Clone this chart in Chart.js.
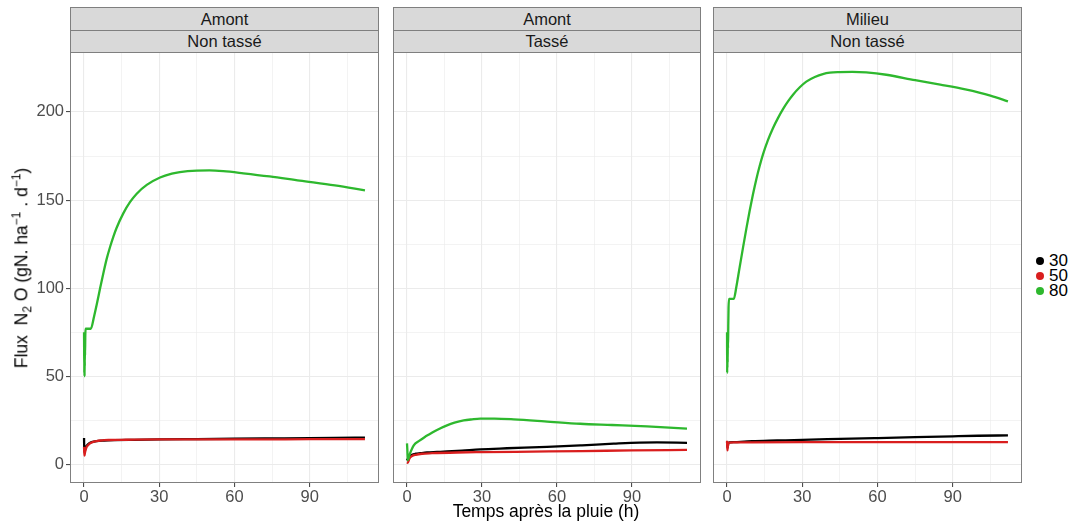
<!DOCTYPE html>
<html><head><meta charset="utf-8">
<script src="https://cdn.jsdelivr.net/npm/chart.js@4.4.1/dist/chart.umd.min.js"></script>
<style>
body{margin:0;background:#fff;}
#wrap{position:relative;width:1070px;height:524px;overflow:hidden;background:#fff;font-family:"Liberation Sans",Arial,sans-serif;}
canvas{position:absolute;}
.strip{position:absolute;box-sizing:border-box;background:#d9d9d9;border:1px solid #7f7f7f;text-align:center;color:#1a1a1a;font-size:16.5px;}
.ytitle{position:absolute;left:22px;top:268px;transform:translate(-50%,-50%) rotate(-90deg);white-space:nowrap;font-size:17.5px;color:#000;}
.ytitle sub,.ytitle sup{font-size:12px;}
.xtitle{position:absolute;left:546px;top:511px;transform:translate(-50%,-50%);white-space:nowrap;font-size:17.5px;color:#000;}
.leg{position:absolute;font-size:17px;color:#000;line-height:15px;}
.dot{position:absolute;width:8px;height:8px;border-radius:50%;}
</style></head>
<body><div id="wrap">
<canvas id="c1"></canvas><canvas id="c2"></canvas><canvas id="c3"></canvas>
</div>
<script>
// ---------- labels ----------
const panelTop = ["Amont", "Amont", "Milieu"];
const panelBottom = ["Non tassé", "Tassé", "Non tassé"];
const seriesNames = ["30", "50", "80"];
const seriesColors = ["#000000", "#d91e1e", "#2eb82e"];
const xTicks = [0, 30, 60, 90];
const xMinorTicks = [15, 45, 75, 105];
const yTicks = [0, 50, 100, 150, 200];
const yMinorTicks = [25, 75, 125, 175];

// ---------- Panel 1 : Amont / Non tassé ----------
const p1_t30 = [0, 0.1, 0.3, 0.6, 1, 2, 3, 5, 8, 12, 20, 30, 45, 60, 75, 90, 100, 112];
const p1_v30 = [15, 7, 8, 9.5, 10.5, 12, 12.7, 13.3, 13.6, 13.8, 14.0, 14.2, 14.4, 14.6, 14.8, 15.0, 15.1, 15.2];
const p1_t50 = [0, 0.15, 0.4, 0.7, 1, 1.5, 2, 3, 4, 5, 6.5, 8, 10, 15, 20, 30, 45, 60, 80, 100, 112];
const p1_v50 = [10, 5, 7, 8.5, 9.8, 10.8, 11.6, 12.5, 13, 13.3, 13.6, 13.8, 13.9, 14.0, 14.1, 14.2, 14.2, 14.3, 14.3, 14.4, 14.4];
const p1_t80 = [0, 0.1, 0.15, 0.2, 0.25, 0.3, 0.35, 0.4, 0.5, 0.6, 0.8, 1.5, 2.7, 4, 5.1, 6.4, 7.7, 9, 10.4, 11.7, 13, 15.7, 18.3, 21, 25, 30.3, 35, 38.2, 45, 50, 55.5, 63.5, 74, 86, 100, 112];
const p1_v80 = [75, 52, 66, 50, 60, 56, 70, 62, 73, 77, 77, 77, 77, 84, 91, 100, 108.5, 116.5, 123.5, 129.3, 134.3, 142.6, 148.8, 153.6, 158.6, 162.8, 165, 165.9, 166.7, 166.8, 166.4, 165.2, 163.4, 161, 158.3, 155.5];

// ---------- Panel 2 : Amont / Tassé ----------
const p2_t30 = [0, 0.3, 1, 2, 3.5, 5.3, 8, 12, 16, 22, 29.3, 40, 56, 70, 82.7, 93, 100, 112];
const p2_v30 = [3.4, 2.5, 4.5, 5.5, 6.1, 6.4, 6.8, 7.1, 7.4, 7.9, 8.6, 9.2, 10.0, 10.9, 11.8, 12.4, 12.5, 12.3];
const p2_t50 = [0, 0.3, 1, 2, 3.5, 6, 10, 20, 30, 50, 70, 90, 112];
const p2_v50 = [1.3, 1.0, 3.5, 4.8, 5.5, 6.1, 6.4, 6.8, 7.0, 7.3, 7.6, 8.0, 8.3];
const p2_t80 = [0, 0.15, 0.3, 1, 2.7, 5, 7, 9.3, 12, 16, 19, 22.7, 26, 29.3, 35, 42.7, 55, 69.3, 82, 96, 112];
const p2_v80 = [12, 8, 2.5, 5.5, 10.8, 13.5, 15.5, 17.4, 19.6, 22.2, 23.7, 25, 25.6, 26, 26, 25.6, 24.5, 23.1, 22.4, 21.6, 20.3];

// ---------- Panel 3 : Milieu / Non tassé ----------
const p3_t30 = [0, 0.2, 0.5, 1, 3, 10, 20, 30, 45, 60, 75, 90, 100, 112];
const p3_v30 = [13, 9.5, 12, 12.5, 12.7, 13.2, 13.6, 14.0, 14.5, 15.0, 15.5, 16.0, 16.3, 16.5];
const p3_t50 = [0, 0.15, 0.3, 0.6, 1, 3, 10, 30, 60, 90, 112];
const p3_v50 = [13.5, 8, 10, 12, 12.4, 12.5, 12.6, 12.7, 12.7, 12.7, 12.7];
const p3_t80 = [0, 0.05, 0.1, 0.15, 0.2, 0.25, 0.3, 0.4, 0.5, 0.6, 0.8, 1.5, 2.7, 3.7, 5, 6.4, 7.7, 9, 10.3, 11.7, 13, 14.3, 16.3, 18.3, 20.3, 22.3, 24.3, 26.3, 29, 31.6, 35, 38.2, 41, 44.9, 50, 55.5, 63.5, 75, 85, 95, 105, 112];
const p3_v80 = [75, 52, 60, 55, 63, 58, 70, 66, 80, 89, 94, 94, 94, 100.7, 111.7, 123.3, 133.8, 143.8, 153, 162, 169.3, 175.8, 184, 190.8, 196.5, 201.6, 206, 209.8, 214, 217.2, 219.8, 221.5, 222.3, 222.6, 222.7, 222.4, 221.1, 218, 215.5, 212.8, 209.3, 206];

// ---------- layout ----------
const plotTop = 52, axisH = 30, canvasH = 461;
const panels = [
  {id: "c1", left: 30, width: 349, yW: 40, showY: true,
   series: [[p1_t30, p1_v30], [p1_t50, p1_v50], [p1_t80, p1_v80]]},
  {id: "c2", left: 393, width: 308, yW: 0, showY: false,
   series: [[p2_t30, p2_v30], [p2_t50, p2_v50], [p2_t80, p2_v80]]},
  {id: "c3", left: 713, width: 309, yW: 0, showY: false,
   series: [[p3_t30, p3_v30], [p3_t50, p3_v50], [p3_t80, p3_v80]]}
];

const borderPlugin = {
  id: "panelBorder",
  afterDraw(chart) {
    const a = chart.chartArea, ctx = chart.ctx;
    ctx.save();
    ctx.strokeStyle = "#808080";
    ctx.lineWidth = 1;
    ctx.strokeRect(a.left + 0.5, a.top + 0.5, a.right - a.left - 1, a.bottom - a.top - 1);
    ctx.restore();
  }
};

function resetPad(s) { s.paddingTop = 0; s.paddingBottom = 0; s.paddingLeft = 0; s.paddingRight = 0; }

const wrap = document.getElementById("wrap");
panels.forEach((p, i) => {
  const cv = document.getElementById(p.id);
  cv.width = p.width; cv.height = canvasH;
  cv.style.left = p.left + "px"; cv.style.top = plotTop + "px";
  cv.style.width = p.width + "px"; cv.style.height = canvasH + "px";

  const plotLeft = p.left + p.yW, plotRight = p.left + p.width;
  const s1 = document.createElement("div");
  s1.className = "strip";
  s1.style.cssText = `left:${plotLeft}px;top:7px;width:${plotRight - plotLeft}px;height:24px;line-height:22px;`;
  s1.textContent = panelTop[i];
  const s2 = document.createElement("div");
  s2.className = "strip";
  s2.style.cssText = `left:${plotLeft}px;top:30px;width:${plotRight - plotLeft}px;height:23px;line-height:21px;`;
  s2.textContent = panelBottom[i];
  wrap.appendChild(s1); wrap.appendChild(s2);

  const datasets = p.series.map((s, k) => ({
    label: seriesNames[k],
    data: s[0].map((t, j) => ({x: t, y: s[1][j]})),
    borderColor: seriesColors[k],
    backgroundColor: seriesColors[k],
    borderWidth: 2.3,
    pointRadius: 0,
    cubicInterpolationMode: "monotone",
    fill: false,
    order: 3 - k
  }));

  new Chart(cv, {
    type: "line",
    data: {datasets},
    plugins: [borderPlugin],
    options: {
      responsive: false, animation: false, devicePixelRatio: 1,
      layout: {padding: 0},
      plugins: {legend: {display: false}, tooltip: {enabled: false}},
      scales: {
        x: {
          type: "linear", min: -5.6, max: 117.6,
          afterBuildTicks: (sc) => { sc.ticks = [...xTicks, ...xMinorTicks].sort((a, b) => a - b).map(v => ({value: v})); },
          afterFit: (sc) => { sc.height = axisH; resetPad(sc); },
          border: {display: false},
          grid: {
            color: "#ebebeb",
            lineWidth: (c) => (c.tick && xTicks.includes(c.tick.value)) ? 1.1 : 0.6,
            tickLength: 4,
            tickColor: (c) => (c.tick && xTicks.includes(c.tick.value)) ? "#4d4d4d" : "rgba(0,0,0,0)"
          },
          ticks: {
            autoSkip: false, maxRotation: 0, minRotation: 0, padding: 1,
            color: "#4d4d4d", font: {family: "Liberation Sans", size: 16.5},
            callback: (v) => xTicks.includes(v) ? String(v) : ""
          }
        },
        y: {
          type: "linear", min: -10.5, max: 234,
          afterBuildTicks: (sc) => { sc.ticks = [...yTicks, ...yMinorTicks].sort((a, b) => a - b).map(v => ({value: v})); },
          afterFit: (sc) => { sc.width = p.yW; resetPad(sc); },
          border: {display: false},
          grid: {
            color: "#ebebeb",
            lineWidth: (c) => (c.tick && yTicks.includes(c.tick.value)) ? 1.1 : 0.6,
            drawTicks: p.showY,
            tickLength: 4,
            tickColor: (c) => (c.tick && yTicks.includes(c.tick.value)) ? "#4d4d4d" : "rgba(0,0,0,0)"
          },
          ticks: {
            display: p.showY, autoSkip: false, padding: 2,
            color: "#4d4d4d", font: {family: "Liberation Sans", size: 16.5},
            callback: (v) => yTicks.includes(v) ? String(v) : ""
          }
        }
      }
    }
  });
});

// axis titles
const yt = document.createElement("div");
yt.className = "ytitle";
yt.innerHTML = "Flux&nbsp; N<sub>2</sub> O (gN. ha<sup>−1</sup> . d<sup>−1</sup>)";
wrap.appendChild(yt);
const xt = document.createElement("div");
xt.className = "xtitle";
xt.textContent = "Temps après la pluie (h)";
wrap.appendChild(xt);

// legend
const legY = [261, 276, 291];
seriesNames.forEach((n, k) => {
  const d = document.createElement("div");
  d.className = "dot";
  d.style.left = (1040 - 4) + "px"; d.style.top = (legY[k] - 4) + "px";
  d.style.background = seriesColors[k];
  wrap.appendChild(d);
  const l = document.createElement("div");
  l.className = "leg";
  l.style.left = "1049px"; l.style.top = (legY[k] - 8) + "px";
  l.textContent = n;
  wrap.appendChild(l);
});
</script>
</body></html>
